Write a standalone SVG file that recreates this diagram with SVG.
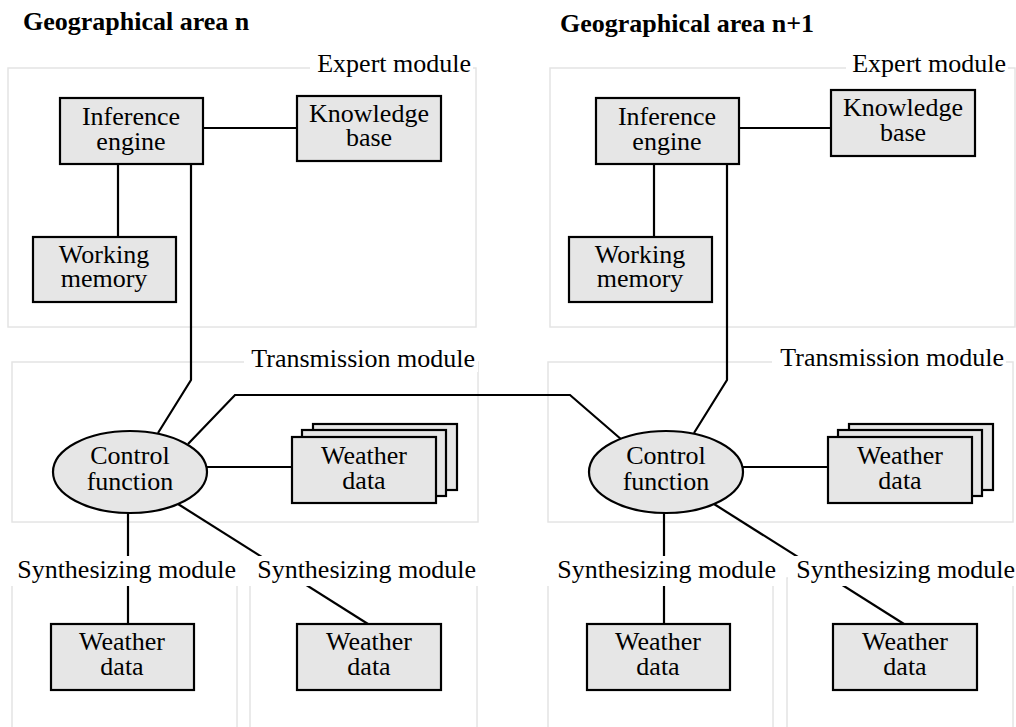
<svg xmlns="http://www.w3.org/2000/svg" width="1016" height="727" viewBox="0 0 1016 727">
<style>
.frame{fill:none;stroke:#e4e4e4;stroke-width:1.5}
.bg{fill:#ffffff}
.lbl{font-family:"Liberation Serif","Times New Roman",serif;font-size:26px;fill:#000;text-anchor:end}
.title{font-family:"Liberation Serif","Times New Roman",serif;font-size:26px;font-weight:bold;fill:#000}
.node{fill:#e6e6e6;stroke:#000;stroke-width:2.2}
.t{font-family:"Liberation Serif","Times New Roman",serif;font-size:26px;fill:#000;text-anchor:middle}
.c{fill:none;stroke:#000;stroke-width:2.2;stroke-linejoin:miter}
</style>
<rect width="1016" height="727" fill="#ffffff"/>
<text class="title" x="23" y="30">Geographical area n</text>
<text class="title" x="560" y="32">Geographical area n+1</text>
<g id="module-frames">
<rect class="frame" x="8" y="68" width="468" height="259"/>
<rect class="frame" x="550" y="68" width="465" height="259"/>
<rect class="frame" x="12" y="362" width="466" height="160"/>
<rect class="frame" x="548" y="362" width="465" height="160"/>
<rect class="frame" x="12" y="578" width="225" height="170"/>
<rect class="frame" x="250" y="578" width="227" height="170"/>
<rect class="frame" x="548" y="578" width="225" height="170"/>
<rect class="frame" x="787" y="578" width="226" height="170"/>
</g>
<g id="connectors">
<line class="c" x1="203" y1="128" x2="297" y2="128"/>
<line class="c" x1="118" y1="164" x2="118" y2="237"/>
<polyline class="c" points="191,164 191,380 158,433"/>
<polyline class="c" points="188,444 235,395 570,395 622,440"/>
<line class="c" x1="207" y1="467" x2="292" y2="467"/>
<line class="c" x1="128" y1="513" x2="128" y2="624"/>
<line class="c" x1="178" y1="504" x2="368" y2="624"/>
<line class="c" x1="739" y1="128" x2="831" y2="128"/>
<line class="c" x1="654" y1="164" x2="654" y2="237"/>
<polyline class="c" points="727,164 727,380 694,433"/>
<line class="c" x1="743" y1="467" x2="828" y2="467"/>
<line class="c" x1="664" y1="513" x2="664" y2="624"/>
<line class="c" x1="714" y1="504" x2="904" y2="624"/>
</g>
<g id="module-labels">
<g id="expert-module-n"><rect class="bg" x="310" y="52" width="163" height="26"/><text class="lbl" x="471" y="72">Expert module</text></g>
<g id="expert-module-n1"><rect class="bg" x="846" y="52" width="162" height="26"/><text class="lbl" x="1006" y="72">Expert module</text></g>
<g id="transmission-module-n"><rect class="bg" x="244" y="348" width="234" height="24"/><text class="lbl" x="475" y="367">Transmission module</text></g>
<g id="transmission-module-n1"><rect class="bg" x="772" y="347" width="234" height="24"/><text class="lbl" x="1004" y="366">Transmission module</text></g>
<g id="synth-module-n-a"><rect class="bg" x="11" y="556" width="227" height="30"/><text class="lbl" x="236" y="578">Synthesizing module</text></g>
<g id="synth-module-n-b"><rect class="bg" x="249" y="556" width="229" height="30"/><text class="lbl" x="476" y="578">Synthesizing module</text></g>
<g id="synth-module-n1-a"><rect class="bg" x="547" y="556" width="230" height="30"/><text class="lbl" x="776" y="578">Synthesizing module</text></g>
<g id="synth-module-n1-b"><rect class="bg" x="788" y="556" width="228" height="30"/><text class="lbl" x="1015" y="578">Synthesizing module</text></g>
</g>
<g id="inference-engine-n"><rect class="node" x="60" y="98" width="143" height="66"/><text class="t" x="131" y="125">Inference</text><text class="t" x="131" y="150">engine</text></g>
<g id="knowledge-base-n"><rect class="node" x="297" y="96" width="144" height="65"/><text class="t" x="369" y="122">Knowledge</text><text class="t" x="369" y="146">base</text></g>
<g id="working-memory-n"><rect class="node" x="33" y="237" width="143" height="65"/><text class="t" x="104" y="263">Working</text><text class="t" x="104" y="287">memory</text></g>
<g id="control-function-n"><ellipse class="node" cx="130" cy="472" rx="77" ry="41"/><text class="t" x="130" y="464">Control</text><text class="t" x="130" y="490">function</text></g>
<g id="weather-stack-n"><rect class="node" x="313" y="424" width="144" height="66"/><rect class="node" x="302" y="430" width="144" height="66"/><rect class="node" x="292" y="437" width="144" height="66"/><text class="t" x="364" y="464">Weather</text><text class="t" x="364" y="489">data</text></g>
<g id="weather-synth-n-a"><rect class="node" x="51" y="624" width="143" height="66"/><text class="t" x="122" y="650">Weather</text><text class="t" x="122" y="675">data</text></g>
<g id="weather-synth-n-b"><rect class="node" x="297" y="624" width="144" height="66"/><text class="t" x="369" y="650">Weather</text><text class="t" x="369" y="675">data</text></g>
<g id="inference-engine-n1"><rect class="node" x="596" y="98" width="143" height="66"/><text class="t" x="667" y="125">Inference</text><text class="t" x="667" y="150">engine</text></g>
<g id="knowledge-base-n1"><rect class="node" x="831" y="90" width="144" height="66"/><text class="t" x="903" y="116">Knowledge</text><text class="t" x="903" y="141">base</text></g>
<g id="working-memory-n1"><rect class="node" x="569" y="237" width="143" height="65"/><text class="t" x="640" y="263">Working</text><text class="t" x="640" y="287">memory</text></g>
<g id="control-function-n1"><ellipse class="node" cx="666" cy="472" rx="77" ry="41"/><text class="t" x="666" y="464">Control</text><text class="t" x="666" y="490">function</text></g>
<g id="weather-stack-n1"><rect class="node" x="849" y="424" width="144" height="66"/><rect class="node" x="838" y="430" width="144" height="66"/><rect class="node" x="828" y="437" width="144" height="66"/><text class="t" x="900" y="464">Weather</text><text class="t" x="900" y="489">data</text></g>
<g id="weather-synth-n1-a"><rect class="node" x="587" y="624" width="143" height="66"/><text class="t" x="658" y="650">Weather</text><text class="t" x="658" y="675">data</text></g>
<g id="weather-synth-n1-b"><rect class="node" x="833" y="624" width="144" height="66"/><text class="t" x="905" y="650">Weather</text><text class="t" x="905" y="675">data</text></g>
</svg>
